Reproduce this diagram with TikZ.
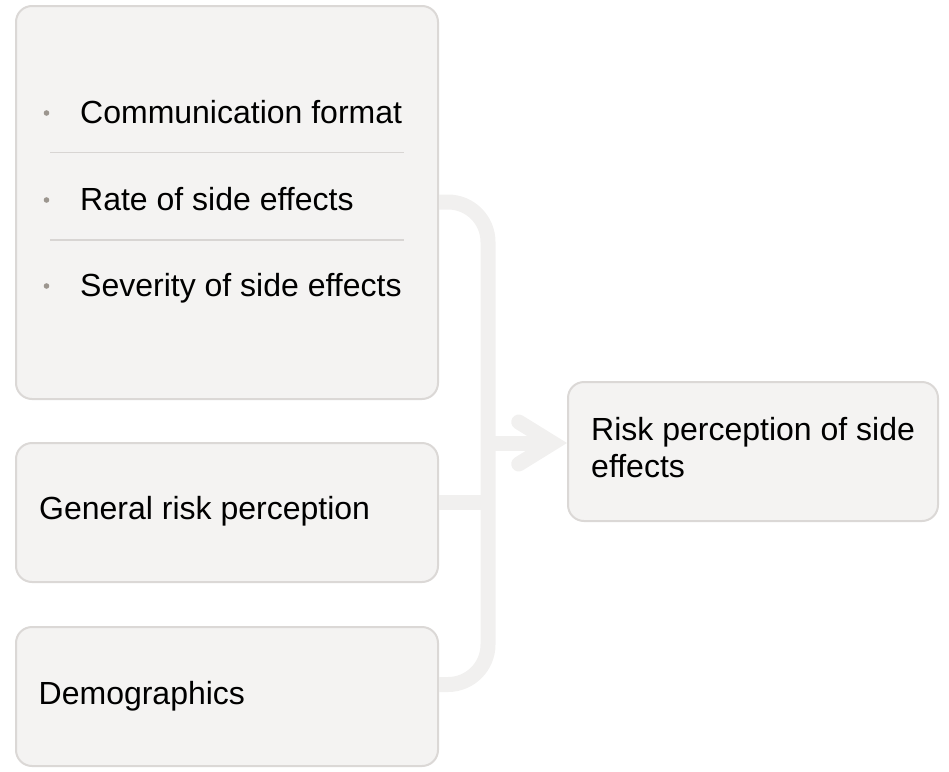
\documentclass[tikz,border=0pt]{standalone}
\usepackage{fontspec}
\setmainfont{Liberation Sans}
\usetikzlibrary{positioning,calc,arrows.meta}

\definecolor{boxfill}{HTML}{F4F3F2}
\definecolor{boxline}{HTML}{DBD8D6}
\definecolor{linkgray}{HTML}{F1F0EF}
\definecolor{dotgray}{HTML}{9C968F}
\definecolor{rulegray}{HTML}{D8D5D3}

\tikzset{
  factor/.style={draw=boxline,fill=boxfill,line width=2pt,rounded corners=16pt,
    minimum width=422pt,inner sep=0pt},
  txt/.style={anchor=base west,inner sep=0pt,font=\fontsize{32}{37}\selectfont},
  dot/.style={circle,fill=dotgray,inner sep=0pt,minimum size=5.6pt},
  link/.style={draw=linkgray,line width=15pt},
}

\begin{document}
\begin{tikzpicture}[x=1pt,y=-1pt]
 \useasboundingbox (0,0) rectangle (949,771);
 %
 \node[factor,minimum height=393pt] (prod) at (227,202.5) {};
 \node[factor,minimum height=139pt] (general) at (227,512.5) {};
 \node[factor,minimum height=139pt] (demo) at (227,696.5) {};
 \node[factor,minimum width=370pt,minimum height=139pt] (risk) at (753,451.5) {};
 %
 \node[txt] (comm) at (80,123) {Communication format};
 \node[txt] (rate) at (80,210) {Rate of side effects};
 \node[txt] (sev) at (80,296) {Severity of side effects};
 \node[dot] (d1) at (46.5,113) {};
 \node[dot] (d2) at (46.5,200) {};
 \node[dot] (d3) at (46.5,286) {};
 \draw[rulegray,line width=1.5pt] (50,152.5) -- (404,152.5);
 \draw[rulegray,line width=1.5pt] (50,240) -- (404,240);
 %
 \node[txt] (gen) at (39,519) {General risk perception};
 \node[txt] (dem) at (38.5,704) {Demographics};
 \node[txt,align=left] (out) at (591,477) {Risk perception of side\\effects};
 %
 \coordinate (spine) at (488,0);
 \draw[link,rounded corners=40pt] ($(prod.east)+(0,-0.5)$) -| ($(spine |- demo.east)+(0,-12)$)
   -- ($(demo.east)+(0,-12)$);
 \draw[link] ($(general.east)+(0,-10)$) -- ($(spine |- general.east)+(0,-10)$);
 \draw[link,-{Straight Barb[length=34pt,width=42pt,line cap=round]}]
   ($(spine |- risk.west)+(0,-8.5)$) -- ($(risk.west)+(0,-8.5)$);
\end{tikzpicture}
\end{document}
